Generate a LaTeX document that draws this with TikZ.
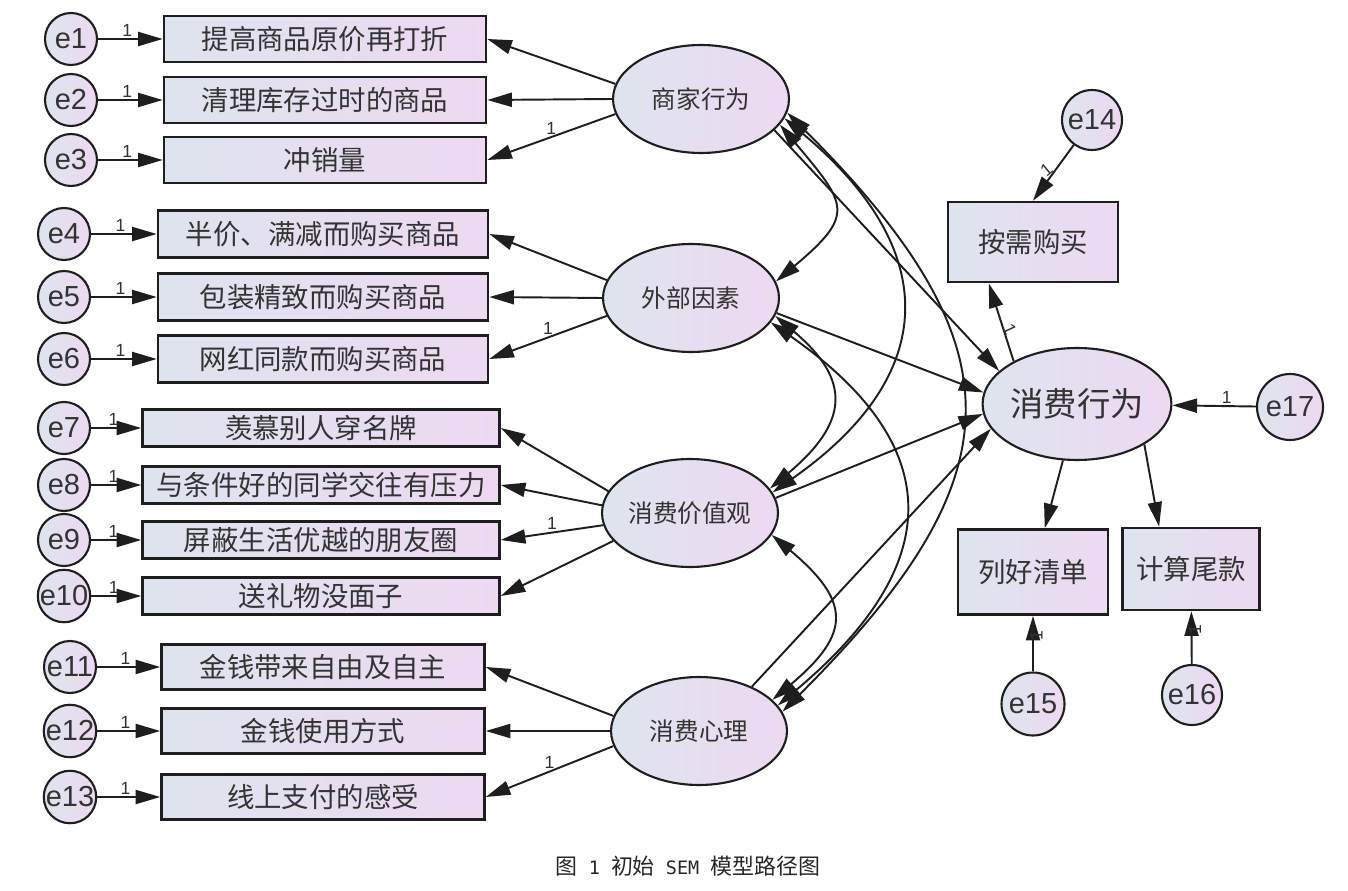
\documentclass[tikz,border=0pt]{standalone}
\usepackage{fontspec}
\usepackage{tikz}
\usetikzlibrary{shapes.geometric,arrows.meta}
\setmainfont{Liberation Sans}
\newfontfamily\cjk{Noto Sans CJK SC}
\newfontfamily\capmono{DejaVu Sans Mono}
\definecolor{boxl}{RGB}{222,228,238}
\definecolor{boxr}{RGB}{237,217,241}
\definecolor{ink}{RGB}{30,30,30}

\begin{document}
\begin{tikzpicture}[x=0.02cm,y=-0.02cm,ink,line width=1.1pt,
    >={Triangle[length=14pt,width=8pt]},
    obs/.style={draw=ink,line width=1.5pt,left color=boxl,right color=boxr,inner sep=0pt,text=black!80,font=\cjk\fontsize{15.6}{16}\selectfont},
    lat/.style={ellipse,draw=ink,line width=1.2pt,left color=boxl,right color=boxr,minimum width=3.52cm,minimum height=2.16cm,inner sep=0pt,text=black!80,font=\cjk\fontsize{14}{14}\selectfont},
    err/.style={circle,draw=ink,line width=1.2pt,left color=boxl,right color=boxr,minimum size=1.04cm,inner sep=0pt,text=black!80,font=\fontsize{16.5}{17}\selectfont},
    one/.style={font=\fontsize{10}{10}\selectfont,text=black!80,inner sep=1pt}]
  \useasboundingbox (0,0) rectangle (1348,891);

  % latent variables
  \node[lat] (sj) at (701,99) {商家行为};
  \node[lat] (wb) at (691,298) {外部因素};
  \node[lat] (jz) at (690,513) {消费价值观};
  \node[lat] (xl) at (699,731) {消费心理};
  \node[lat,minimum width=3.5cm,minimum height=2.24cm,font=\cjk\fontsize{19}{19}\selectfont] (xf) at (1077,404) {消费行为};

  % indicators with their errors
  \foreach \n/\y/\t in {1/39/提高商品原价再打折,2/100/清理库存过时的商品,3/160/冲销量}{
    \node[obs,minimum width=6.44cm,minimum height=0.92cm] (b\n) at (325,\y) {\t};
    \node[err] (e\n) at (71,\y) {e\n};
    \draw[->] (e\n) -- node[one,above,pos=0.45]{1} (b\n);
  }
  \foreach \n/\y/\t in {4/234/半价、满减而购买商品,5/297/包装精致而购买商品,6/359/网红同款而购买商品}{
    \node[obs,minimum width=6.6cm,minimum height=0.94cm] (b\n) at (323,\y) {\t};
    \node[err] (e\n) at (64,\y) {e\n};
    \draw[->] (e\n) -- node[one,above,pos=0.45]{1} (b\n);
  }
  \foreach \n/\y/\t in {7/428/羡慕别人穿名牌,8/485/与条件好的同学交往有压力,9/540/屏蔽生活优越的朋友圈,10/596/送礼物没面子}{
    \node[obs,minimum width=7.14cm,minimum height=0.74cm] (b\n) at (321,\y) {\t};
    \node[err] (e\n) at (64,\y) {e\n};
    \draw[->] (e\n) -- node[one,above,pos=0.45]{1} (b\n);
  }
  \foreach \n/\y/\t in {11/667/金钱带来自由及自主,12/731/金钱使用方式,13/797/线上支付的感受}{
    \node[obs,minimum width=6.46cm,minimum height=0.9cm] (b\n) at (323,\y) {\t};
    \node[err] (e\n) at (70,\y) {e\n};
    \draw[->] (e\n) -- node[one,above,pos=0.45]{1} (b\n);
  }

  % loadings
  \draw[->] (sj.170) -- (b1.east);
  \draw[->] (sj.west) -- (b2.east);
  \draw[->] (sj.190) -- node[one,above,pos=0.5]{1} (b3.east);
  \draw[->] (wb.168) -- (b4.east);
  \draw[->] (wb.west) -- (b5.east);
  \draw[->] (wb.192) -- node[one,above,pos=0.5]{1} (b6.east);
  \draw[->] (jz.165) -- (b7.east);
  \draw[->] (jz.175) -- (b8.east);
  \draw[->] (jz.188) -- node[one,above,pos=0.5]{1} (b9.east);
  \draw[->] (jz.200) -- (b10.east);
  \draw[->] (xl.170) -- (b11.east);
  \draw[->] (xl.west) -- (b12.east);
  \draw[->] (xl.190) -- node[one,above,pos=0.5]{1} (b13.east);

  % covariances
  \draw[<->] (sj.-18) to[out=-50,in=40,looseness=1.7] (wb.11);
  \draw[<->] (sj.-13) to[out=-40,in=35,looseness=1.4] (jz.14);
  \draw[<->] (sj.-9) to[out=-45,in=45,looseness=1.42] (xl.13);
  \draw[<->] (wb.-12) to[out=-40,in=40,looseness=1.5] (jz.17);
  \draw[<->] (wb.-17) to[out=-35,in=40,looseness=1.45] (xl.18);
  \draw[<->] (jz.-15) to[out=-40,in=40,looseness=1.6] (xl.23);

  % structural paths
  \draw[->] (sj.-23) -- (xf.157);
  \draw[->] (wb.-10) -- (xf.173);
  \draw[->] (jz.10) -- (xf.-174);
  \draw[->] (xl.40) -- (xf.-164);

  % outcome indicators
  \node[obs,minimum width=3.4cm,minimum height=1.6cm] (ax) at (1033,242) {按需购买};
  \node[obs,minimum width=3.0cm,minimum height=1.7cm] (lh) at (1033,572) {列好清单};
  \node[obs,minimum width=2.74cm,minimum height=1.64cm] (js) at (1191,569) {计算尾款};
  \node[err,minimum size=1.2cm] (e14) at (1092,120) {e14};
  \node[err,minimum size=1.26cm] (e15) at (1033,704) {e15};
  \node[err,minimum size=1.2cm] (e16) at (1192,695) {e16};
  \node[err,minimum size=1.32cm] (e17) at (1290,407) {e17};

  \draw[->] (xf.146) -- node[one,right=3pt,pos=0.5,rotate=-65]{1} (ax.-137);
  \draw[->] (xf.-104) -- (lh.75);
  \draw[->] (xf.-31) -- (js.127);
  \draw[->] (e14) -- node[one,left=4pt,pos=0.35,rotate=40]{1} (ax.north);
  \draw[->] (e15) -- node[one,right=2pt,pos=0.5,rotate=90]{1} (lh);
  \draw[->] (e16) -- node[one,right=2pt,pos=0.5,rotate=90]{1} (js);
  \draw[->] (e17) -- node[one,above,pos=0.35]{1} (xf);

  \node[font=\cjk\fontsize{12.5}{13}\selectfont,text=black!85] (cap) at (688,866)
    {图\hspace{0.5em}{\capmono\fontsize{10.5}{13}\selectfont 1}\hspace{0.5em}初始\hspace{0.5em}{\capmono\fontsize{10.5}{13}\selectfont SEM}\hspace{0.5em}模型路径图};
\end{tikzpicture}
\end{document}
